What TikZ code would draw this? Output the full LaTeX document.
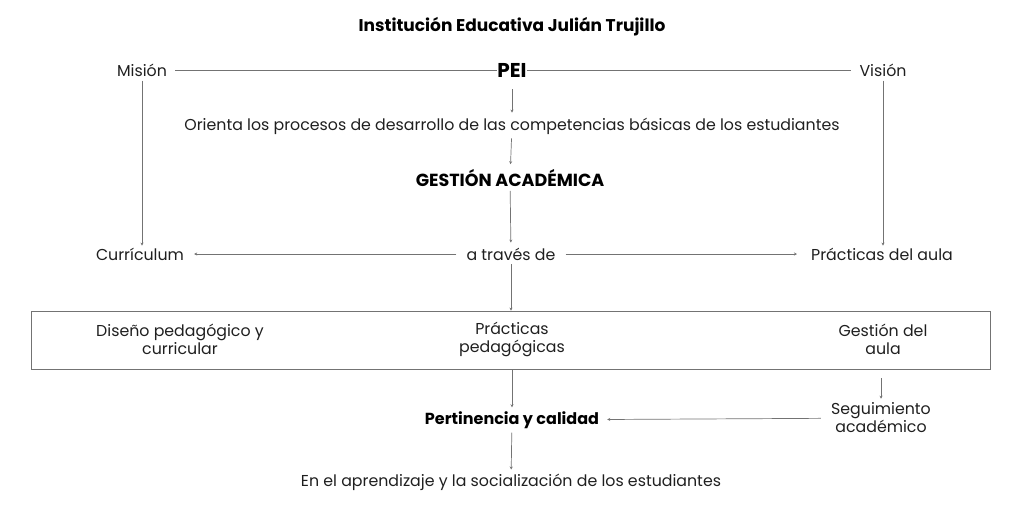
\documentclass[tikz,border=0pt]{standalone}
\usepackage{fontspec}
\setmainfont{Poppins}
\usetikzlibrary{arrows.meta, positioning}

\begin{document}
\begin{tikzpicture}[
      x=1pt, y=-1pt,
      txt/.style={font=\fontsize{15.8}{18}\selectfont, text=black!88,
                  align=center, inner sep=2pt},
      head/.style={font=\fontsize{16}{19}\selectfont\bfseries, text=black,
                  align=center, inner sep=2pt},
      line/.style={draw=black!55, line width=0.7pt},
      arrow/.style={line, -{Stealth[length=3pt, width=3pt]}},
      frame/.style={rectangle, draw=black!55, line width=0.8pt,
                  minimum width=959pt, minimum height=58pt}
    ]
        \useasboundingbox (0,0) rectangle (1024,525);
        \node[head, font=\fontsize{17}{20}\selectfont\bfseries] (title) at (512,27) {Institución Educativa Julián Trujillo};
        \node[txt] (mision) at (142,70) {Misión};
        \node[head, font=\fontsize{20}{22}\selectfont\bfseries, inner sep=0pt] (pei) at (512,70) {PEI};
        \node[txt] (vision) at (883,70) {Visión};
        \node[txt] (orienta) at (512,126) {Orienta los procesos de desarrollo de las competencias básicas de los estudiantes};
        \node[head, font=\fontsize{17.5}{20}\selectfont\bfseries] (gestion) at (510,178) {GESTIÓN ACADÉMICA};
        \node[txt] (atraves) at (511,254) {a través de};
        \node[txt] (curri) at (140,254) {Currículum};
        \node[txt] (aula) at (882,254) {Prácticas del aula};
        \node[frame] (marco) at (510.5,340) {};
        \node[txt] (diseno) at (180,339) {Diseño pedagógico y\\curricular};
        \node[txt] (practicas) at (512,339) {Prácticas\\pedagógicas};
        \node[txt] (gaula) at (883,339) {Gestión del\\aula};
        \node[txt] (seguim) at (881,418) {Seguimiento\\académico};
        \node[head] (pert) at (512,420) {Pertinencia y calidad};
        \node[txt] (aprend) at (511,482) {En el aprendizaje y la socialización de los estudiantes};
        % top line
        \draw[line, shorten <=6pt] (mision) -- (pei);
        \draw[line, shorten >=6pt] (pei) -- (vision);
        % central column
        \draw[arrow, shorten <=12pt, shorten >=3pt] (pei) -- (orienta);
        \draw[arrow, shorten <=2pt, shorten >=3pt] (orienta) -- (gestion);
        \draw[arrow, shorten <=2pt, shorten >=3pt] (gestion) -- (atraves);
        \draw[arrow, shorten <=2pt] (mision) -- (mision |- curri.north);
        \draw[arrow, shorten <=2pt] (vision) -- (vision |- aula.north);
        \draw[arrow, shorten <=8pt, shorten >=8pt] (atraves) -- (curri);
        \draw[arrow, shorten <=8pt, shorten >=12pt] (atraves) -- (aula);
        \draw[arrow, shorten <=2pt] (atraves) -- (atraves |- marco.north);
        \draw[arrow, shorten >=2pt] (marco.south -| pert) -- (pert);
        \draw[arrow, shorten <=9pt, shorten >=2pt] (marco.south -| seguim) -- (seguim);
        \draw[arrow, shorten <=8pt, shorten >=6pt] (seguim) -- (pert);
        \draw[arrow, shorten <=2pt, shorten >=2pt] (pert) -- (aprend);
    \end{tikzpicture}
\end{document}
